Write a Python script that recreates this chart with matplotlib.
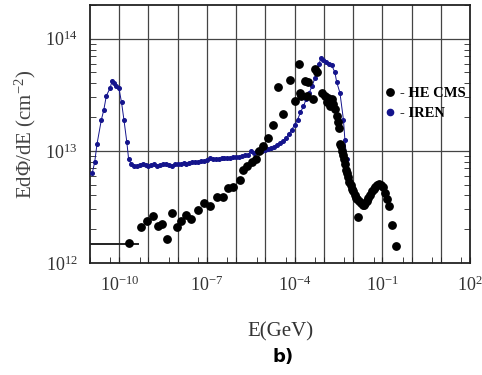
import matplotlib
matplotlib.use("Agg")
import matplotlib.pyplot as plt
import numpy as np
from matplotlib.ticker import FixedLocator, LogLocator, NullFormatter
from matplotlib.lines import Line2D

plt.rcParams['font.family'] = ['Liberation Serif', 'DejaVu Serif']
plt.rcParams['mathtext.fontset'] = 'custom'
plt.rcParams['mathtext.rm'] = 'Liberation Serif'
plt.rcParams['mathtext.it'] = 'Liberation Serif:italic'
plt.rcParams['mathtext.bf'] = 'Liberation Serif:bold'

# IREN spectrum: log10(E/GeV) and E dPhi/dE (cm^-2)
iren_logE = [-10.92, -10.84, -10.76, -10.61, -10.53, -10.44, -10.32, -10.24, -10.18, -10.10,
             -10.01, -9.92, -9.84, -9.74, -9.68, -9.60, -9.49, -9.40, -9.30, -9.20,
             -9.10, -9.00, -8.90, -8.80, -8.70, -8.60, -8.50, -8.40, -8.30, -8.20,
             -8.10, -8.00, -7.90, -7.80, -7.70, -7.60, -7.50, -7.40, -7.30, -7.20,
             -7.10, -7.00, -6.90, -6.80, -6.70, -6.60, -6.50, -6.40, -6.30, -6.20,
             -6.10, -6.00, -5.90, -5.80, -5.70, -5.60, -5.50, -5.40, -5.30, -5.20,
             -5.10, -5.00, -4.90, -4.80, -4.70, -4.60, -4.50, -4.40, -4.30, -4.20,
             -4.10, -4.00, -3.90, -3.80, -3.70, -3.60, -3.50, -3.40, -3.30, -3.22,
             -3.16, -3.10, -3.02, -2.93, -2.83, -2.73, -2.62, -2.56, -2.45, -2.33,
             -2.28, -2.22, -2.13]
iren_flux = [6.4e12, 7.9e12, 1.15e13, 1.9e13, 2.3e13, 3.1e13, 3.6e13, 4.2e13, 4.0e13, 3.8e13,
             3.6e13, 2.7e13, 1.9e13, 1.2e13, 8.5e12, 7.7e12, 7.4e12, 7.3e12, 7.5e12, 7.7e12,
             7.5e12, 7.4e12, 7.5e12, 7.6e12, 7.4e12, 7.5e12, 7.6e12, 7.7e12, 7.5e12, 7.4e12,
             7.6e12, 7.6e12, 7.7e12, 7.8e12, 7.7e12, 7.8e12, 7.9e12, 7.9e12, 8.0e12, 8.2e12,
             8.1e12, 8.3e12, 8.6e12, 8.4e12, 8.5e12, 8.5e12, 8.6e12, 8.6e12, 8.7e12, 8.7e12,
             8.8e12, 8.9e12, 8.9e12, 9.0e12, 9.1e12, 9.2e12, 9.9e12, 9.6e12, 9.9e12, 1.0e13,
             1.0e13, 1.02e13, 1.04e13, 1.06e13, 1.09e13, 1.12e13, 1.17e13, 1.22e13, 1.30e13, 1.40e13,
             1.55e13, 1.70e13, 1.9e13, 2.2e13, 2.5e13, 2.9e13, 3.3e13, 3.8e13, 4.5e13, 5.3e13,
             6.0e13, 6.7e13, 6.4e13, 6.2e13, 6.0e13, 5.8e13, 5.0e13, 4.1e13, 3.3e13, 1.9e13,
             1.26e13, 8.4e12, 5.9e12]

# HE CMS spectrum
cms_logE = [-9.65, -9.26, -9.04, -8.86, -8.68, -8.52, -8.38, -8.21, -8.03, -7.90,
            -7.72, -7.54, -7.32, -7.10, -6.89, -6.67, -6.46, -6.27, -6.10, -5.87,
            -5.76, -5.62, -5.47, -5.32, -5.21, -5.07, -4.90, -4.75, -4.58, -4.39,
            -4.16, -3.99, -3.85, -3.82, -3.79, -3.64, -3.59, -3.53, -3.36, -3.30,
            -3.25, -3.07, -2.96, -2.90, -2.85, -2.80, -2.73, -2.68, -2.62, -2.56,
            -2.51, -2.47, -2.45, -2.42, -2.39, -2.35, -2.31, -2.28, -2.24, -2.20,
            -2.16, -2.13, -2.08, -2.03, -1.99, -1.95, -1.90, -1.85, -1.82, -1.79,
            -1.73, -1.67, -1.63, -1.59, -1.53, -1.48, -1.42, -1.36, -1.30, -1.25,
            -1.18, -1.10, -1.05, -0.99, -0.91, -0.83, -0.76, -0.68, -0.53]
cms_flux = [1.52e12, 2.09e12, 2.35e12, 2.6e12, 2.14e12, 2.24e12, 1.63e12, 2.82e12, 2.1e12, 2.35e12,
            2.7e12, 2.46e12, 2.94e12, 3.46e12, 3.24e12, 3.84e12, 3.9e12, 4.7e12, 4.8e12, 5.5e12,
            6.7e12, 7.4e12, 7.9e12, 8.5e12, 1.0e13, 1.1e13, 1.29e13, 1.69e13, 3.7e13, 2.15e13,
            4.3e13, 2.8e13, 5.9e13, 3.3e13, 3.1e13, 4.2e13, 3.1e13, 4.1e13, 2.9e13, 5.4e13,
            5.0e13, 3.3e13, 3.1e13, 2.7e13, 2.96e13, 2.5e13, 2.9e13, 2.6e13, 2.34e13, 2.05e13,
            1.8e13, 1.6e13, 1.14e13, 1.1e13, 1.0e13, 9.2e12, 8.4e12, 7.6e12, 6.8e12, 6.3e12,
            5.8e12, 5.3e12, 5.0e12, 4.6e12, 4.35e12, 4.0e12, 3.8e12, 3.7e12, 2.56e12, 3.55e12,
            3.4e12, 3.3e12, 3.3e12, 3.4e12, 3.6e12, 3.8e12, 4.0e12, 4.35e12, 4.6e12, 4.8e12,
            5.0e12, 5.1e12, 5.0e12, 4.8e12, 4.2e12, 3.7e12, 3.2e12, 2.19e12, 1.42e12]

# lowest-energy HE CMS bin drawn as a horizontal bar
bar_logE = [-11.0, -9.35]
bar_flux = 1.48e12

blue = '#14148c'
txt = '#333333'

fig = plt.figure(figsize=(4.82, 3.75), dpi=100)
ax = fig.add_axes([0.1867, 0.2987, 0.7884, 0.688])

ax.set_xscale('log')
ax.set_yscale('log')
ax.set_xlim(1e-11, 1e2)
ax.set_ylim(1e12, 2e14)

# grid: every decade in x, only 1e13/1e14 in y
for d in range(-10, 2):
    ax.axvline(10.0 ** d, color='#444444', lw=0.9, zorder=1)
for v in [1e13, 1e14]:
    ax.axhline(v, color='#444444', lw=0.9, zorder=1)

ax.plot(10.0 ** np.array(bar_logE), [bar_flux, bar_flux], color='#222222', lw=1.4, zorder=2)
ax.plot(10.0 ** np.array(iren_logE), iren_flux, '-o', color=blue, lw=0.7, ms=2.6,
        mec=blue, mfc=blue, zorder=3)
ax.plot(10.0 ** np.array(cms_logE), cms_flux, 'o', color='black', ms=5.3, zorder=4)

ax.xaxis.set_major_locator(FixedLocator([1e-10, 1e-7, 1e-4, 1e-1, 1e2]))
ax.xaxis.set_minor_locator(FixedLocator([10.0 ** d for d in range(-11, 3)] +
                                        [5 * 10.0 ** d for d in range(-12, 2)]))
ax.xaxis.set_minor_formatter(NullFormatter())
ax.yaxis.set_major_locator(FixedLocator([1e12, 1e13, 1e14]))
ax.yaxis.set_minor_locator(LogLocator(base=10, subs=np.arange(2, 10)))
ax.yaxis.set_minor_formatter(NullFormatter())

ax.tick_params(axis='both', which='both', direction='in', colors='#222222',
               labelcolor=txt, labelsize=13)
ax.tick_params(axis='x', which='major', length=4, pad=9)
ax.tick_params(axis='x', which='minor', length=4)
ax.tick_params(axis='y', which='major', length=0, pad=9, right=True)
ax.tick_params(axis='y', which='minor', length=4, right=True)

for s in ax.spines.values():
    s.set_linewidth(1.3)
    s.set_color('#222222')

ax.set_xlabel('E(GeV)', fontsize=15, color=txt, labelpad=20)
ax.set_ylabel(r'Ed$\Phi$/dE (cm$^{-2}$)', fontsize=15, color='#444444', labelpad=5)

handles = [Line2D([], [], marker='o', ls='', color='black', ms=5.3),
           Line2D([], [], marker='o', ls='', color=blue, ms=4.5)]
ax.legend(handles, ['- HE CMS', '- IREN'], loc='upper left', bbox_to_anchor=(0.755, 0.71),
          frameon=False, handlelength=0.8, handletextpad=0.25, labelspacing=0.45,
          borderpad=0, prop={'family': 'Liberation Serif', 'weight': 'bold', 'size': 10.5})

fig.text(0.587, 0.048, 'b)', fontsize=13, fontweight='bold', family='DejaVu Sans',
         ha='center', va='center')

fig.savefig('out.png', dpi=100)
